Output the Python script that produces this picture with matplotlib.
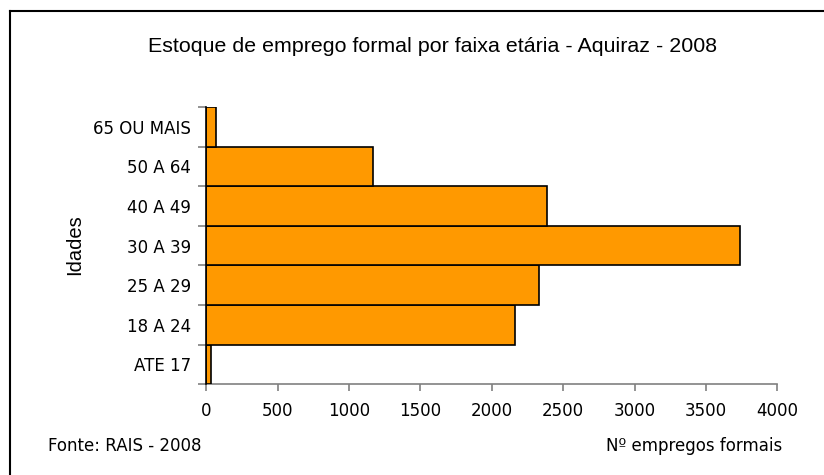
import matplotlib
matplotlib.use("Agg")
import matplotlib.pyplot as plt
from matplotlib.lines import Line2D
import numpy as np

# faixas etárias (de baixo para cima) e estoque de empregos
faixas = ["ATE 17", "18 A 24", "25 A 29", "30 A 39", "40 A 49", "50 A 64", "65 OU MAIS"]
empregos = [30, 2165, 2333, 3738, 2387, 1168, 66]
xticks = [0, 500, 1000, 1500, 2000, 2500, 3000, 3500, 4000]

W, H = 824, 475
fig = plt.figure(figsize=(W / 100, H / 100), dpi=100)
ax = fig.add_axes([206.3 / W, 1 - 384.3 / H, (777.3 - 206.3) / W, (384.3 - 107) / H])

y = np.arange(len(faixas))
ax.barh(y, empregos, height=1.0, color="#FF9900", edgecolor="black", linewidth=1.2, zorder=3)

ax.set_xlim(0, 4000)
ax.set_ylim(-0.5, len(faixas) - 0.5)
ax.set_xticks(xticks)
ax.set_xticklabels([str(v) for v in xticks], fontsize=12, family="DejaVu Sans")

# marcas nas divisões entre categorias, rótulos no centro
ax.set_yticks(np.arange(len(faixas) + 1) - 0.5)
ax.set_yticklabels([])
ax.set_yticks(y, minor=True)
ax.set_yticklabels(faixas, minor=True, fontsize=12, family="DejaVu Sans")
ax.tick_params(axis="y", which="minor", length=0, pad=11)
ax.tick_params(axis="y", which="major", length=6, color="#808080", width=1.2)
ax.tick_params(axis="x", length=5, color="#808080", width=1.2, pad=8)

for s in ["top", "right"]:
    ax.spines[s].set_visible(False)
ax.spines["bottom"].set_color("#808080")
ax.spines["bottom"].set_linewidth(1.2)
ax.spines["left"].set_color("black")
ax.spines["left"].set_linewidth(1.2)
ax.spines["left"].set_zorder(4)

fig.text(432 / W, 1 - 47 / H, "Estoque de emprego formal por faixa etária - Aquiraz - 2008",
         ha="center", va="center", fontsize=15.4, family="Liberation Sans")
fig.text(75 / W, 1 - 245 / H, "Idades", rotation=90, ha="center", va="center",
         fontsize=14.5, family="Liberation Sans")
fig.text(48 / W, 1 - 446 / H, "Fonte: RAIS - 2008", ha="left", va="center",
         fontsize=12, family="DejaVu Sans")
fig.text(782 / W, 1 - 446 / H, "Nº empregos formais", ha="right", va="center",
         fontsize=12, family="DejaVu Sans")

# moldura do gráfico (só topo e esquerda aparecem)
fig.add_artist(Line2D([9.5 / W, 9.5 / W], [1 - 10.5 / H, 0], color="black", linewidth=1.5))
fig.add_artist(Line2D([9.5 / W, 1], [1 - 10.5 / H, 1 - 10.5 / H], color="black", linewidth=1.5))

fig.savefig("out.png", dpi=100)
